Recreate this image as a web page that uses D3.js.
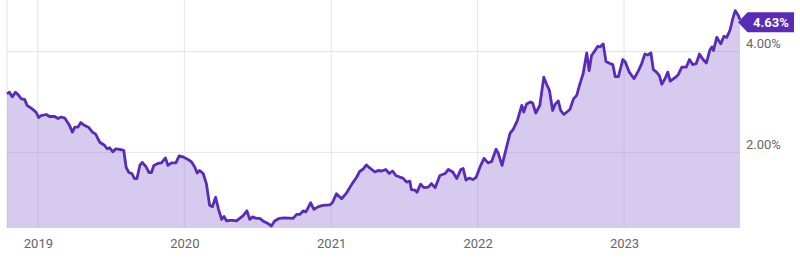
<!DOCTYPE html>
<html>
<head>
<meta charset="utf-8">
<script src="https://cdn.jsdelivr.net/npm/d3@7"></script>
<style>
  body { margin: 0; background: #fff; }
  text { font-family: Roboto, "Noto Sans", sans-serif; }
</style>
</head>
<body>
<div id="chart"></div>
<script>
// weekly-ish yield readings (%)
var dates = [
  "2018-10-16","2018-10-22","2018-10-29","2018-11-06","2018-11-12","2018-11-21","2018-11-29","2018-12-05",
  "2018-12-16","2018-12-24","2018-12-28","2019-01-03","2019-01-09","2019-01-22","2019-01-30","2019-02-12",
  "2019-02-20","2019-02-28","2019-03-09","2019-03-21","2019-03-28","2019-04-03","2019-04-11","2019-04-18",
  "2019-04-28","2019-05-08","2019-05-17","2019-05-25","2019-06-04","2019-06-16","2019-06-23","2019-06-29",
  "2019-07-07","2019-07-14","2019-07-24","2019-08-03","2019-08-09","2019-08-16","2019-08-23","2019-08-30",
  "2019-09-05","2019-09-12","2019-09-18","2019-09-27","2019-10-05","2019-10-11","2019-10-17","2019-10-27",
  "2019-11-05","2019-11-15","2019-11-21","2019-11-30","2019-12-11","2019-12-19","2019-12-29","2020-01-10",
  "2020-01-19","2020-01-27","2020-02-02","2020-02-08","2020-02-17","2020-02-25","2020-03-04","2020-03-11",
  "2020-03-19","2020-03-26","2020-04-03","2020-04-09","2020-04-15","2020-04-23","2020-05-01","2020-05-10",
  "2020-05-18","2020-05-26","2020-06-05","2020-06-12","2020-06-19","2020-06-29","2020-07-07","2020-07-15",
  "2020-07-25","2020-08-05","2020-08-13","2020-08-24","2020-09-07","2020-09-28","2020-10-07","2020-10-15",
  "2020-10-23","2020-10-30","2020-11-11","2020-11-19","2020-11-29","2020-12-11","2020-12-29","2021-01-04",
  "2021-01-14","2021-01-27","2021-02-07","2021-02-17","2021-02-25","2021-03-05","2021-03-13","2021-03-22",
  "2021-03-30","2021-04-07","2021-04-20","2021-04-28","2021-05-07","2021-05-17","2021-05-26","2021-06-03",
  "2021-06-11","2021-06-21","2021-06-29","2021-07-08","2021-07-16","2021-07-20","2021-07-29","2021-08-03",
  "2021-08-12","2021-08-20","2021-08-31","2021-09-08","2021-09-17","2021-09-29","2021-10-12","2021-10-20",
  "2021-10-31","2021-11-10","2021-11-20","2021-11-26","2021-12-03","2021-12-11","2021-12-20","2021-12-28",
  "2022-01-07","2022-01-17","2022-01-27","2022-02-05","2022-02-16","2022-02-21","2022-03-03","2022-03-13",
  "2022-03-23","2022-03-31","2022-04-10","2022-04-21","2022-04-26","2022-05-03","2022-05-13","2022-05-18",
  "2022-05-26","2022-06-05","2022-06-15","2022-06-22","2022-06-29","2022-07-07","2022-07-13","2022-07-21",
  "2022-07-27","2022-08-04","2022-08-13","2022-08-19","2022-08-28","2022-09-05","2022-09-12","2022-09-21",
  "2022-09-30","2022-10-06","2022-10-12","2022-10-21","2022-10-27","2022-11-02","2022-11-10","2022-11-17",
  "2022-11-27","2022-12-04","2022-12-10","2022-12-18","2022-12-29","2023-01-04","2023-01-14","2023-01-26",
  "2023-02-06","2023-02-14","2023-02-22","2023-03-01","2023-03-09","2023-03-15","2023-03-23","2023-03-30",
  "2023-04-05","2023-04-13","2023-04-20","2023-04-26","2023-05-08","2023-05-16","2023-05-25","2023-06-05",
  "2023-06-13","2023-06-21","2023-06-30","2023-07-08","2023-07-16","2023-07-25","2023-08-03","2023-08-08",
  "2023-08-12","2023-08-20","2023-08-30","2023-09-07","2023-09-14","2023-09-22","2023-09-29","2023-10-05",
  "2023-10-13","2023-10-17"
];
var yields = [
  3.16,3.19,3.10,3.19,3.15,3.06,3.05,2.93,
  2.87,2.82,2.79,2.69,2.73,2.75,2.71,2.71,
  2.67,2.70,2.68,2.53,2.40,2.50,2.50,2.59,
  2.53,2.49,2.40,2.36,2.20,2.14,2.07,2.09,
  2.01,2.07,2.06,2.04,1.70,1.60,1.58,1.48,
  1.48,1.74,1.80,1.72,1.60,1.60,1.74,1.78,
  1.79,1.89,1.74,1.79,1.79,1.93,1.91,1.86,
  1.81,1.71,1.59,1.64,1.58,1.38,0.95,0.92,
  1.11,0.88,0.67,0.73,0.64,0.65,0.65,0.64,
  0.69,0.74,0.84,0.67,0.72,0.69,0.69,0.64,
  0.60,0.54,0.64,0.69,0.70,0.69,0.77,0.77,
  0.84,0.82,1.00,0.87,0.92,0.95,0.96,1.00,
  1.18,1.08,1.18,1.31,1.41,1.50,1.62,1.67,
  1.75,1.69,1.61,1.64,1.63,1.66,1.58,1.63,
  1.54,1.51,1.49,1.41,1.43,1.26,1.25,1.21,
  1.37,1.30,1.31,1.38,1.30,1.54,1.58,1.66,
  1.61,1.48,1.66,1.68,1.45,1.49,1.46,1.50,
  1.71,1.88,1.79,1.82,2.06,1.99,1.74,2.07,
  2.38,2.46,2.63,2.93,2.80,2.96,3.00,2.98,
  2.78,2.93,3.49,3.35,3.23,2.83,2.95,3.02,
  2.83,2.75,2.81,2.85,3.06,3.13,3.33,3.56,
  3.97,3.62,3.92,4.02,4.10,4.09,4.15,3.80,
  3.76,3.74,3.50,3.50,3.84,3.79,3.59,3.46,
  3.62,3.76,3.95,3.93,3.97,3.64,3.59,3.52,
  3.35,3.46,3.59,3.41,3.48,3.54,3.69,3.69,
  3.84,3.74,3.76,3.95,3.85,3.77,4.03,4.09,
  4.02,4.28,4.15,4.30,4.28,4.42,4.65,4.81,
  4.71,4.63
];
var yTicks = [2, 4];
var xTicks = ["2019-01-01","2020-01-01","2021-01-01","2022-01-01","2023-01-01"];

var width = 800, height = 258;
var plot = { left: 7, right: 740, top: 1, bottom: 228 };

var lineColor = "#5a2cb5";
var fillColor = "#d6caef";

var parse = d3.timeParse("%Y-%m-%d");
var data = dates.map(function (d, i) {
  return { date: parse(d), value: yields[i] };
});

let svg = d3
  .select("#chart")
  .append("svg")
  .attr("width", width)
  .attr("height", height);

var x = d3
  .scaleTime()
  .domain(d3.extent(data, (d) => d.date))
  .range([plot.left, plot.right]);

var y = d3.scaleLinear().domain([0.5, 5]).range([plot.bottom, plot.top]);

var area = d3
  .area()
  .x((d) => x(d.date))
  .y0(plot.bottom)
  .y1((d) => y(d.value));

var line = d3
  .line()
  .x((d) => x(d.date))
  .y((d) => y(d.value));

function drawGrid(g, color) {
  g.append("line")
    .attr("x1", plot.left)
    .attr("x2", plot.left)
    .attr("y1", 0)
    .attr("y2", plot.bottom)
    .style("stroke", color);

  g.selectAll(".vgrid")
    .data(xTicks.map(parse))
    .enter()
    .append("line")
    .attr("class", "vgrid")
    .attr("x1", (d) => x(d))
    .attr("x2", (d) => x(d))
    .attr("y1", 0)
    .attr("y2", plot.bottom)
    .style("stroke", color);

  g.selectAll(".hgrid")
    .data(yTicks)
    .enter()
    .append("line")
    .attr("class", "hgrid")
    .attr("x1", plot.left)
    .attr("x2", plot.right)
    .attr("y1", (d) => y(d))
    .attr("y2", (d) => y(d))
    .style("stroke", color);
}

// grey grid on white, then area, then tinted grid clipped to the area
drawGrid(svg.append("g"), "#e4e4e4");

svg
  .append("defs")
  .append("clipPath")
  .attr("id", "areaClip")
  .append("path")
  .datum(data)
  .attr("d", area);

svg
  .append("path")
  .datum(data)
  .attr("d", area)
  .style("fill", fillColor);

drawGrid(svg.append("g").attr("clip-path", "url(#areaClip)"), "#c7bcdc");

svg
  .append("path")
  .datum(data)
  .attr("d", line)
  .style("fill", "none")
  .style("stroke", lineColor)
  .style("stroke-width", 2.8)
  .style("stroke-linejoin", "round");

// axes labels
var yAxis = d3
  .axisRight(y)
  .tickValues(yTicks)
  .tickSize(0)
  .tickFormat((d) => d3.format(".2f")(d) + "%");

svg
  .append("g")
  .attr("transform", "translate(" + (plot.right + 6) + ",0)")
  .call(yAxis)
  .call((g) => g.select(".domain").remove())
  .call((g) =>
    g
      .selectAll("text")
      .attr("x", 0)
      .attr("dy", "-0.3em")
      .attr("font-size", "13px")
      .attr("font-family", "Roboto, sans-serif")
      .style("fill", "#666")
  );

var xAxis = d3
  .axisBottom(x)
  .tickValues(xTicks.map(parse))
  .tickSize(0)
  .tickFormat(d3.timeFormat("%Y"));

svg
  .append("g")
  .attr("transform", "translate(0," + plot.bottom + ")")
  .call(xAxis)
  .call((g) => g.select(".domain").remove())
  .call((g) =>
    g
      .selectAll("text")
      .attr("y", 11)
      .attr("dy", "0.71em")
      .attr("font-size", "13px")
      .attr("font-family", "Roboto, sans-serif")
      .style("fill", "#666")
  );

// last value badge
var last = data[data.length - 1];
var bx = x(last.date) - 2,
  by = y(last.value) + 2.5;

let badge = svg.append("g").attr("transform", "translate(" + bx + "," + by + ")");

badge
  .append("path")
  .attr("d", "M0,0 L9.5,-10 L56,-10 L56,10 L9.5,10 Z")
  .style("fill", lineColor);

badge
  .append("text")
  .attr("x", 33)
  .attr("y", 0)
  .attr("dy", "0.36em")
  .attr("text-anchor", "middle")
  .attr("font-size", "13px")
  .attr("font-weight", "bold")
  .style("fill", "#fff")
  .text(d3.format(".2f")(last.value) + "%");
</script>
</body>
</html>
